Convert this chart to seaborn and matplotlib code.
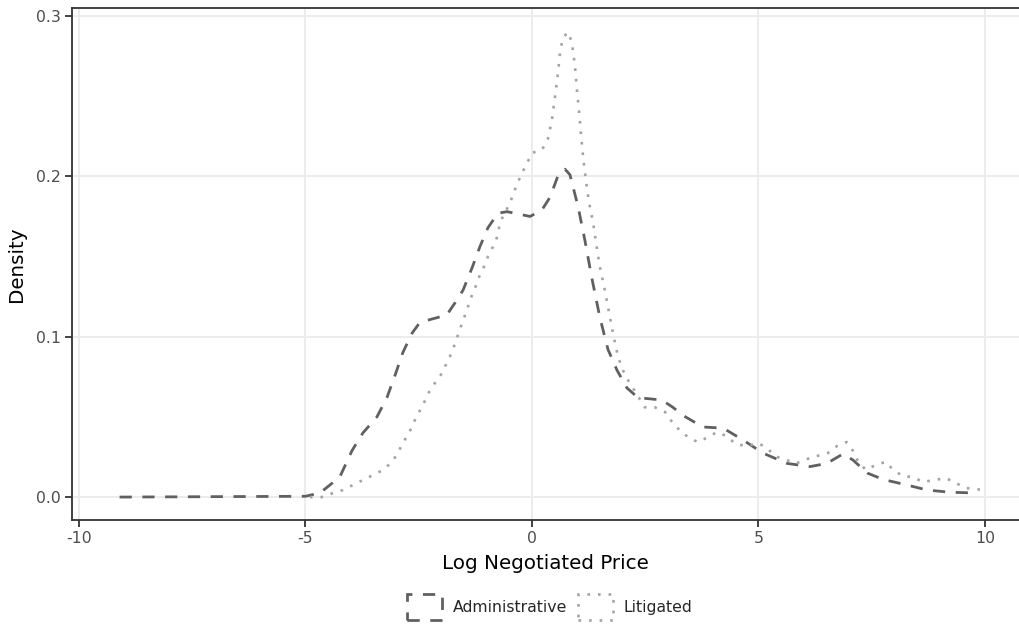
import matplotlib
matplotlib.use("Agg")
import matplotlib.pyplot as plt
import matplotlib.patches as mpatches
import seaborn as sns
import pandas as pd

# ---- data ----
admin_x = [-9.1, -5.0, -4.68, -4.24, -3.97, -3.73, -3.42, -3.2, -3.02, -2.85, -2.65, -2.47, -2.21,
           -1.88, -1.70, -1.52, -1.32, -1.15, -0.97, -0.75, -0.55, -0.04, 0.22, 0.40, 0.57, 0.73,
           0.84, 1.02, 1.17, 1.32, 1.50, 1.68, 1.88, 2.10, 2.34, 2.87, 3.11, 3.33, 3.77, 4.22, 4.66,
           5.10, 5.63, 6.14, 6.51, 6.87, 7.09, 7.40, 7.75, 8.28, 8.72, 9.23, 9.85]
admin_y = [0, 0.0005, 0.0025, 0.0125, 0.029, 0.040, 0.050, 0.062, 0.076, 0.090, 0.102, 0.109, 0.111,
           0.1135, 0.121, 0.129, 0.143, 0.156, 0.168, 0.177, 0.178, 0.175, 0.179, 0.187, 0.200, 0.2045,
           0.201, 0.181, 0.160, 0.137, 0.112, 0.092, 0.079, 0.068, 0.062, 0.0605, 0.056, 0.051, 0.0437,
           0.043, 0.0356, 0.0274, 0.021, 0.019, 0.021, 0.027, 0.023, 0.015, 0.011, 0.0075, 0.0044,
           0.003, 0.0025]

lit_x = [-4.9, -4.64, -4.39, -4.17, -3.95, -3.73, -3.51, -3.29, -3.09, -2.96, -2.85, -2.71, -2.60,
         -2.49, -2.38, -2.27, -2.12, -1.99, -1.88, -1.77, -1.68, -1.61, -1.52, -1.43, -1.35, -1.26,
         -1.17, -1.06, -0.97, -0.86, -0.77, -0.71, -0.64, -0.49, -0.33, -0.22, -0.11, 0.0, 0.22, 0.35,
         0.44, 0.51, 0.57, 0.62, 0.68, 0.79, 0.88, 0.95, 0.99, 1.04, 1.08, 1.13, 1.19, 1.26, 1.35,
         1.43, 1.50, 1.61, 1.70, 1.79, 1.90, 2.01, 2.12, 2.23, 2.49, 2.71, 2.94, 3.09, 3.25, 3.44,
         3.66, 3.89, 4.08, 4.30, 4.50, 4.75, 4.99, 5.19, 5.36, 5.83, 6.07, 6.29, 6.53, 6.73, 6.95,
         7.09, 7.20, 7.37, 7.59, 7.81, 7.97, 8.19, 8.41, 8.63, 8.87, 9.14, 9.36, 9.58, 9.82, 9.9]
lit_y = [0, 0, 0.0025, 0.0044, 0.0075, 0.0106, 0.0137, 0.0168, 0.0218, 0.0274, 0.0337, 0.040, 0.047,
         0.053, 0.059, 0.0655, 0.072, 0.077, 0.0836, 0.090, 0.097, 0.103, 0.110, 0.117, 0.124, 0.130,
         0.137, 0.1435, 0.150, 0.156, 0.162, 0.170, 0.175, 0.183, 0.195, 0.202, 0.208, 0.2146, 0.2165,
         0.223, 0.235, 0.2495, 0.263, 0.277, 0.286, 0.290, 0.284, 0.269, 0.255, 0.241, 0.227, 0.212,
         0.198, 0.184, 0.171, 0.156, 0.1435, 0.129, 0.1155, 0.102, 0.0875, 0.079, 0.073, 0.068, 0.056,
         0.056, 0.053, 0.047, 0.042, 0.0375, 0.0343, 0.0374, 0.0405, 0.038, 0.033, 0.0318, 0.0337,
         0.0306, 0.0256, 0.021, 0.0237, 0.0256, 0.0274, 0.0318, 0.0343, 0.0287, 0.022, 0.017, 0.020,
         0.022, 0.017, 0.013, 0.0125, 0.0094, 0.0106, 0.0118, 0.0087, 0.0056, 0.005, 0.0045]

groups = ["Administrative", "Litigated"]
x_ticks = [-10, -5, 0, 5, 10]
y_ticks = [0.0, 0.1, 0.2, 0.3]
y_tick_labels = ["0.0", "0.1", "0.2", "0.3"]

# ---- styling ----
sns.set_theme(style="white")
plt.rcParams["font.family"] = ["DejaVu Sans"]

colors = {"Administrative": "#606060", "Litigated": "#a3a3a3"}
dash_admin = (0, (4.4, 3.8))
dash_lit = (0, (1.0, 3.0))
styles = {"Administrative": dash_admin, "Litigated": dash_lit}
lws = {"Administrative": 2.0, "Litigated": 1.9}

fig = plt.figure(figsize=(10.19, 6.26), dpi=100)
ax = fig.add_axes([72 / 1019, 1 - 520 / 626, (1019 - 72) / 1019, (520 - 8) / 626])

df_admin = pd.DataFrame({"x": admin_x, "y": admin_y})
df_lit = pd.DataFrame({"x": lit_x, "y": lit_y})

sns.lineplot(data=df_admin, x="x", y="y", ax=ax, color=colors["Administrative"],
             linewidth=lws["Administrative"], linestyle=dash_admin, estimator=None, sort=False)
sns.lineplot(data=df_lit, x="x", y="y", ax=ax, color=colors["Litigated"],
             linewidth=lws["Litigated"], linestyle=dash_lit, estimator=None, sort=False)

ax.set_xlim(-10.15, 10.75)
ax.set_ylim(-0.0143, 0.305)
ax.set_xticks(x_ticks)
ax.set_xticklabels([str(t) for t in x_ticks])
ax.set_yticks(y_ticks)
ax.set_yticklabels(y_tick_labels)

ax.grid(True, color="#ebebeb", linewidth=1.3)
ax.set_axisbelow(True)

for side in ["left", "bottom", "top"]:
    ax.spines[side].set_visible(True)
    ax.spines[side].set_color("#333333")
    ax.spines[side].set_linewidth(1.3)
ax.spines["right"].set_visible(False)

ax.tick_params(axis="both", which="major", direction="out", length=5, width=1.3,
               color="#333333", labelcolor="#4d4d4d", labelsize=11.3, pad=3,
               bottom=True, left=True)

ax.set_xlabel("Log Negotiated Price", fontsize=14.3, color="black", labelpad=6)
ax.set_ylabel("Density", fontsize=14.3, color="black", labelpad=7)

handles = [mpatches.Patch(facecolor="none", edgecolor=colors[g], linewidth=lws[g],
                          linestyle=styles[g], label=g) for g in groups]
fig.legend(handles=handles, loc="center", bbox_to_anchor=(550 / 1019, 1 - 607 / 626),
           ncol=2, frameon=False, fontsize=11.3, handlelength=2.2, handleheight=2.1,
           handletextpad=0.7, columnspacing=0.7, borderaxespad=0, borderpad=0)

fig.savefig("out.png", dpi=100)
